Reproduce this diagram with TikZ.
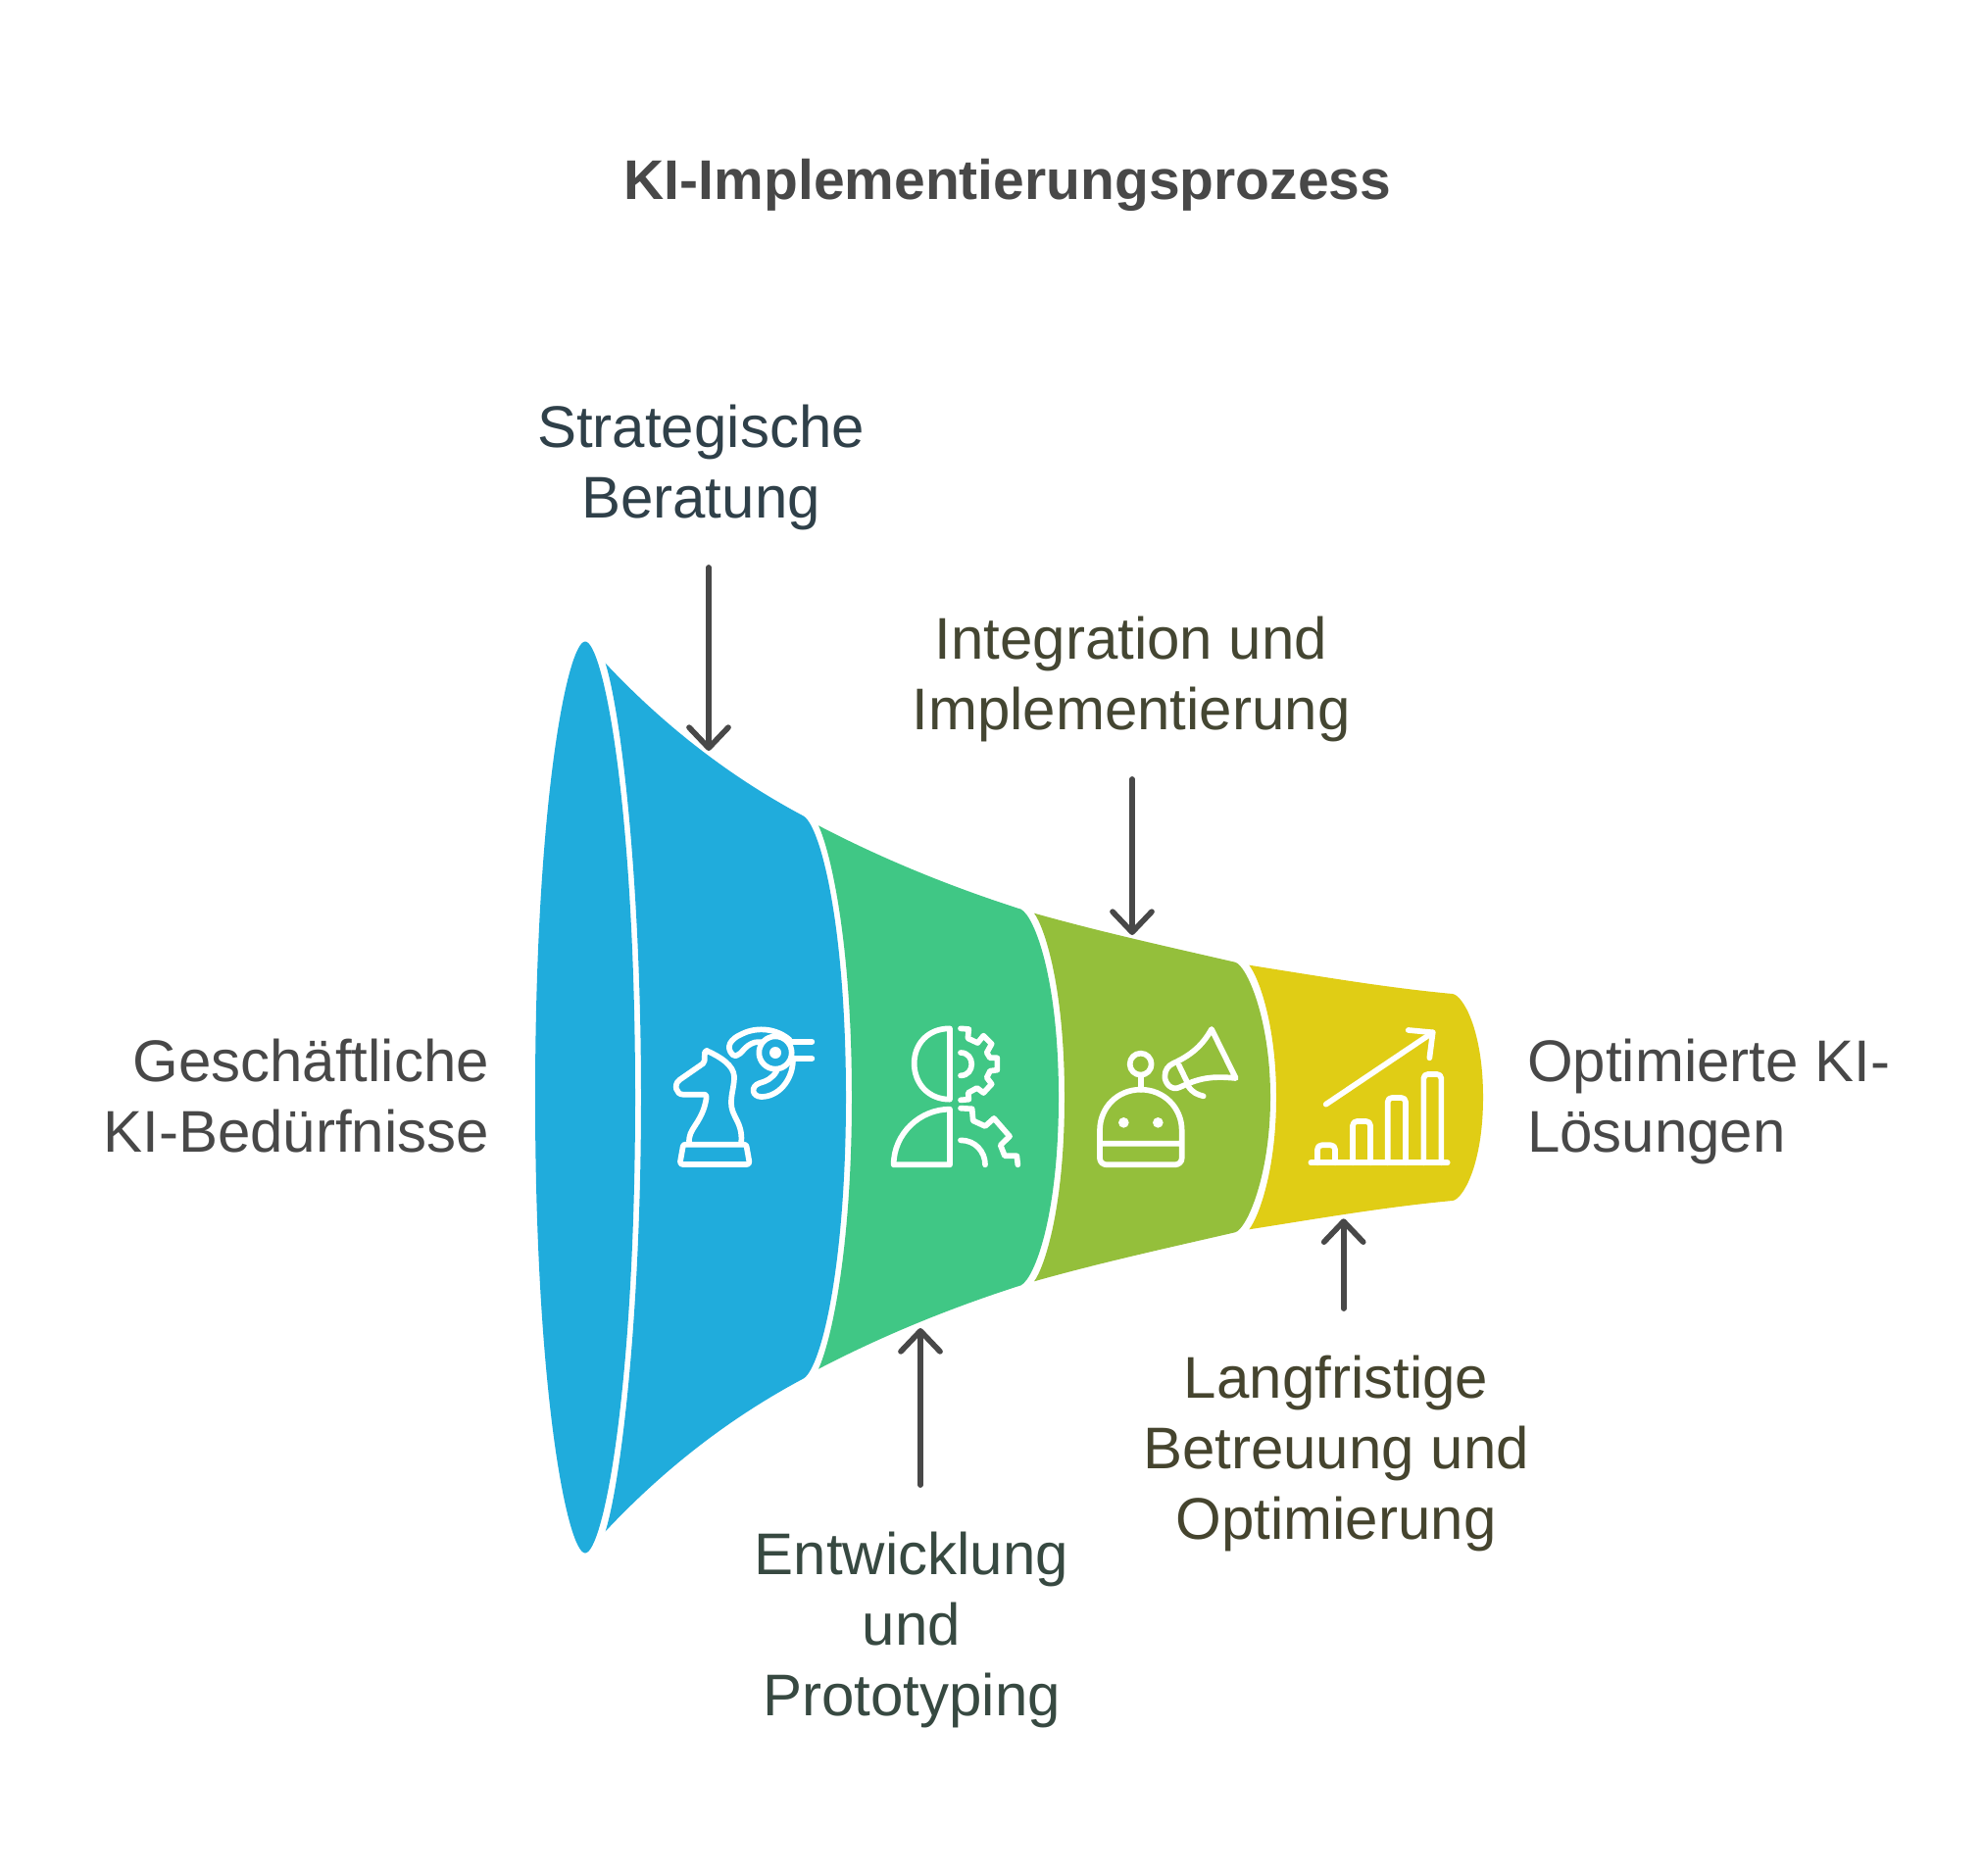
\documentclass[tikz,border=0pt]{standalone}
\usepackage{fontspec}
\setmainfont{Liberation Sans}
\usetikzlibrary{arrows.meta}
\definecolor{cBlue}{HTML}{20ACDC}
\definecolor{cGreen}{HTML}{40C785}
\definecolor{cOlive}{HTML}{94BF3B}
\definecolor{cYellow}{HTML}{E0CD15}
\definecolor{cInk}{HTML}{484848}
\definecolor{tBlue}{HTML}{2F4049}
\definecolor{tGreen}{HTML}{374941}
\definecolor{tOlive}{HTML}{444632}
\definecolor{tYellow}{HTML}{45442E}
\tikzset{
  label/.style={font=\fontsize{30pt}{36pt}\selectfont,inner sep=0pt,outer sep=0pt},
  arrowline/.style={draw=cInk,line width=2.85pt,line cap=round,-{Straight Barb[length=10.5pt,width=20pt,round]}},
  iconline/.style={draw=white,line width=2.85pt,line cap=round,line join=round},
  icondot/.style={fill=white,draw=none},
  iconscope/.style={x=0.166667pt,y=-0.166667pt}
}
\begin{document}
\begin{tikzpicture}[x=0.5pt,y=-0.5pt]
\useasboundingbox (0,0) rectangle (2022,1914);
\fill[white] (0,0) rectangle (2022,1914);
% funnel
\fill[cBlue] (597,654.5) .. controls (614.85,654.5) and (648,817.5) .. (648,1119.5)
  .. controls (648,1421.5) and (614.85,1584.5) .. (597,1584.5)
  .. controls (579.15,1584.5) and (546,1421.5) .. (546,1119.5)
  .. controls (546,817.5) and (579.15,654.5) .. (597,654.5) -- cycle;
\fill[cBlue] (617.7,676.7) .. controls (678,741) and (745.3,793) .. (820,832.7)
  .. controls (838,845) and (863,948) .. (863,1119.5)
  .. controls (863,1291) and (838,1394) .. (820,1406.3)
  .. controls (745.3,1446) and (678,1498) .. (617.7,1562.3)
  .. controls (634,1509) and (654,1339) .. (654,1119.5)
  .. controls (654,900) and (634,730) .. (617.7,676.7) -- cycle;
\fill[cGreen] (835,842.3) .. controls (899.3,875.8) and (968.2,904.2) .. (1041.7,927.7)
  .. controls (1056,936) and (1080,1000) .. (1080,1119.5)
  .. controls (1080,1239) and (1056,1303) .. (1041.7,1311.3)
  .. controls (968.2,1334.8) and (899.3,1363.2) .. (835,1396.7)
  .. controls (847,1371) and (869,1279) .. (869,1119.5)
  .. controls (869,960) and (847,868) .. (835,842.3) -- cycle;
\fill[cOlive] (1055,931.7) .. controls (1123,950.9) and (1192,966) .. (1260,981.7)
  .. controls (1272,985) and (1296,1040) .. (1296,1119.5)
  .. controls (1296,1199) and (1272,1254) .. (1260,1257.3)
  .. controls (1192,1273) and (1123,1288.1) .. (1055,1307.3)
  .. controls (1065,1294) and (1086,1234) .. (1086,1119.5)
  .. controls (1086,1005) and (1065,945) .. (1055,931.7) -- cycle;
\fill[cYellow] (1274.3,984.7) .. controls (1343,995.5) and (1412,1007.5) .. (1481.7,1014)
  .. controls (1492,1015) and (1513,1050) .. (1513,1119.5)
  .. controls (1513,1189) and (1492,1224) .. (1481.7,1225)
  .. controls (1412,1231.5) and (1343,1243.5) .. (1274.3,1254.3)
  .. controls (1284,1242) and (1302,1194) .. (1302,1119.5)
  .. controls (1302,1045) and (1284,997) .. (1274.3,984.7) -- cycle;
% knight + eye
\begin{scope}[shift={(660,1000)},iconscope]
\draw[iconline] (183,216) .. controls (225,235) and (265,260) .. (267,295)
  .. controls (268,330) and (250,365) .. (262,400) .. controls (270,425) and (295,450) .. (288,500);
\draw[iconline] (130,500) .. controls (122,455) and (170,440) .. (182,360) .. controls (183,352) and (180,350) .. (175,350)
  -- (110,350) .. controls (90,350) and (80,320) .. (100,305) -- (172,255) .. controls (182,248) and (170,215) .. (183,216);
\draw[iconline] (118,503) -- (296,503) .. controls (303,503) and (304,506) .. (305,510) -- (313,555)
  .. controls (314,562) and (310,564) .. (305,564) -- (110,564) .. controls (105,564) and (101,561) .. (102,555) -- (110,510) .. controls (111,505) and (113,503) .. (118,503) -- cycle;
\draw[iconline] (393,222) circle [radius=50];
\fill[icondot] (393,222) circle [radius=18];
\draw[iconline] (440,188) -- (505,188);
\draw[iconline] (450,240) -- (505,240);
\draw[iconline] (437,183) .. controls (400,150) and (340,140) .. (290,165) .. controls (255,180) and (240,205) .. (262,228)
  .. controls (280,240) and (290,215) .. (310,200) .. controls (325,190) and (335,188) .. (352,190);
\draw[iconline] (447,245) .. controls (445,310) and (400,357) .. (350,357) .. controls (322,357) and (315,325) .. (345,315)
  .. controls (365,310) and (385,300) .. (397,278);
% head + gear
\draw[iconline] (927,148) -- (927,365) .. controls (860,365) and (818,315) .. (818,255) .. controls (818,195) and (860,148) .. (927,148) -- cycle;
\draw[iconline] (927,395) -- (927,565) -- (755,565) .. controls (755,470) and (835,395) .. (927,395) -- cycle;
\draw[iconline] (960,148) -- (985,150) -- (982,178) -- (1012,192) -- (1030,170) -- (1055,195) -- (1040,222) -- (1050,238) -- (1072,238)
  -- (1072,275) -- (1050,278) -- (1040,298) -- (1055,318) -- (1030,345) -- (1010,330) -- (983,345) -- (985,365) -- (960,367);
\draw[iconline] (960,222) .. controls (1005,222) and (1005,292) .. (960,292);
\draw[iconline] (960,392) -- (995,394) -- (998,430) -- (1035,447) -- (1062,423) -- (1110,478) -- (1082,505) -- (1095,538) -- (1132,538) -- (1135,565);
\draw[iconline] (960,490) .. controls (1005,490) and (1035,525) .. (1035,565);
\end{scope}
% robot + megaphone + chart
\begin{scope}[shift={(1080,1020)},iconscope]
\draw[iconline] (251,197) circle [radius=33];
\draw[iconline] (251,232) -- (251,275);
\draw[iconline] (126,440) -- (126,400) .. controls (126,330) and (180,275) .. (251,275) .. controls (322,275) and (377,330) .. (377,400) -- (377,485)
  .. controls (377,497) and (367,505) .. (355,505) -- (148,505) .. controls (136,505) and (126,497) .. (126,485) -- (126,440) -- (377,440);
\fill[icondot] (199,376) circle [radius=16];
\fill[icondot] (304,376) circle [radius=16];
\draw[iconline] (468,90) -- (542,240) .. controls (490,235) and (450,235) .. (400,255) -- (370,268) .. controls (345,280) and (325,255) .. (325,235)
  .. controls (325,215) and (335,202) .. (350,195) .. controls (405,170) and (440,140) .. (468,90) -- cycle;
\draw[iconline] (368,200) -- (397,260);
\draw[iconline] (397,265) .. controls (410,285) and (425,290) .. (443,295);
\draw[iconline] (772,499) -- (1190,499);
\draw[iconline] (792,499) -- (792,458) .. controls (792,450) and (798,445) .. (805,445) -- (833,445) .. controls (840,445) and (846,450) .. (846,458) -- (846,499);
\draw[iconline] (900,499) -- (900,385) .. controls (900,377) and (906,372) .. (913,372) -- (941,372) .. controls (948,372) and (954,377) .. (954,385) -- (954,499);
\draw[iconline] (1007,499) -- (1007,313) .. controls (1007,305) and (1013,300) .. (1020,300) -- (1049,300) .. controls (1056,300) and (1062,305) .. (1062,313) -- (1062,499);
\draw[iconline] (1117,499) -- (1117,241) .. controls (1117,233) and (1123,228) .. (1130,228) -- (1158,228) .. controls (1165,228) and (1171,233) .. (1171,241) -- (1171,499);
\draw[iconline] (818,320) -- (1145,100);
\draw[iconline] (1070,93) -- (1145,100) -- (1135,178);
\end{scope}
% labels
\node[label,font=\fontsize{28.5pt}{34pt}\selectfont\bfseries,text=cInk] (title) at (1028,189) {KI-Implementierungsprozess};
\node[label,align=center,text=tBlue] (labStrat) at (715,477) {Strategische\\Beratung};
\node[label,align=center,text=tOlive] (labInteg) at (1154,693) {Integration und\\Implementierung};
\node[label,align=right,text=cInk,anchor=east] (labBiz) at (499,1118) {Geschäftliche\\KI-Bedürfnisse};
\node[label,align=left,text=cInk,anchor=west] (labOpt) at (1558,1124) {Optimierte KI-\\Lösungen};
\node[label,align=center,text=tYellow] (labLang) at (1363,1483) {Langfristige\\Betreuung und\\Optimierung};
\node[label,align=center,text=tGreen] (labEntw) at (930,1663) {Entwicklung\\und\\Prototyping};
% connectors
\coordinate (tipStrat) at (723,766);
\coordinate (tipInteg) at (1155,954);
\coordinate (tipLang) at (1370.7,1243.3);
\coordinate (tipEntw) at (939,1355);
\draw[arrowline,shorten <=19pt] (tipStrat |- labStrat.south) -- (tipStrat);
\draw[arrowline,shorten <=19pt] (tipInteg |- labInteg.south) -- (tipInteg);
\draw[arrowline,shorten <=24pt] (tipLang |- labLang.north) -- (tipLang);
\draw[arrowline,shorten <=24pt] (tipEntw |- labEntw.north) -- (tipEntw);
\end{tikzpicture}
\end{document}
